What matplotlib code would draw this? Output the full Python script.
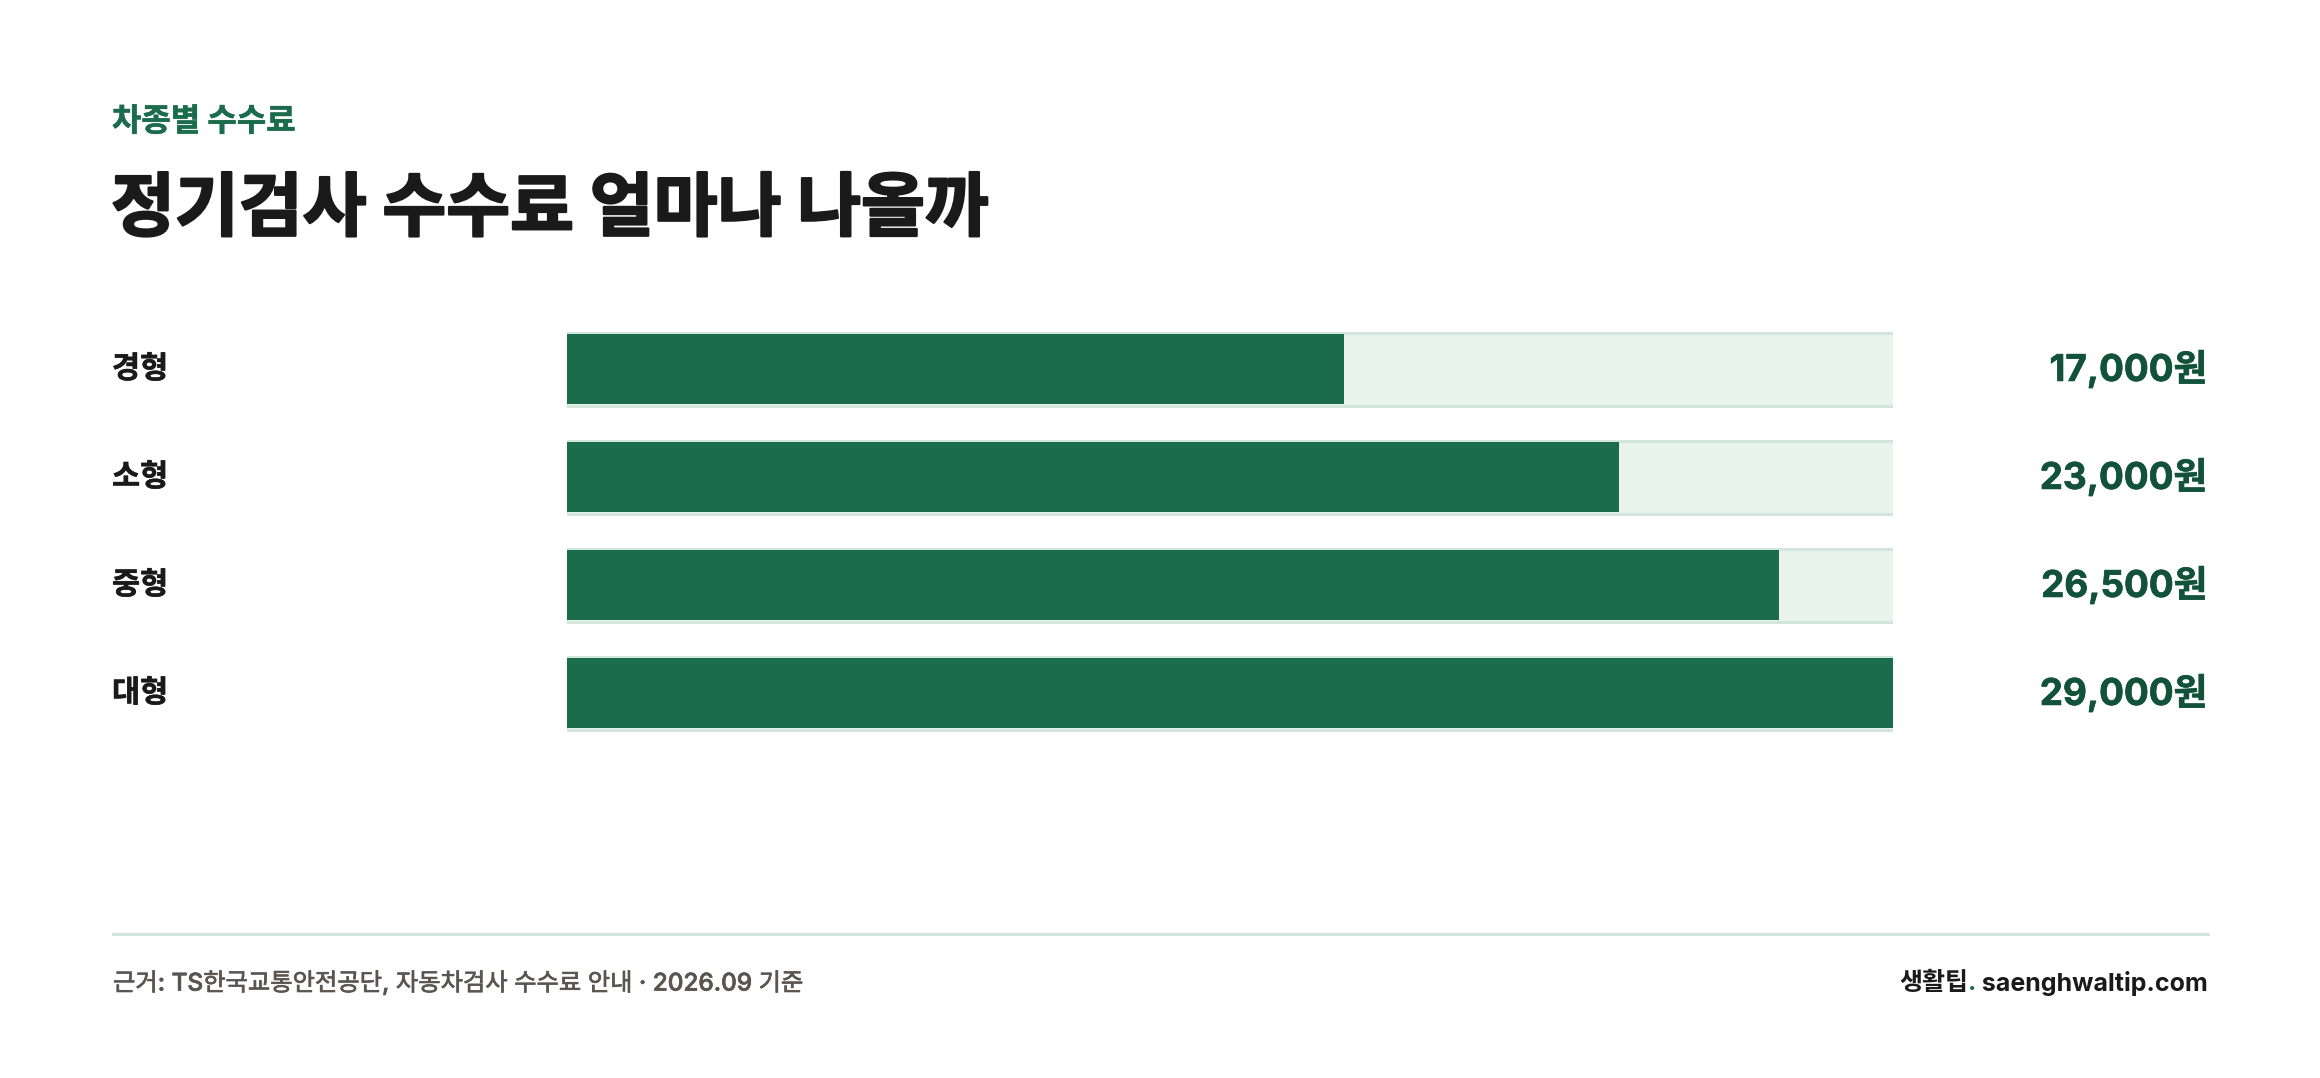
import matplotlib
matplotlib.use("Agg")
import matplotlib.pyplot as plt
import matplotlib.patheffects as pe
from matplotlib.transforms import blended_transform_factory
from matplotlib.lines import Line2D

# 데이터
categories = ["경형", "소형", "중형", "대형"]
fees = [17000, 23000, 26500, 29000]
fee_labels = ["17,000원", "23,000원", "26,500원", "29,000원"]
max_fee = 29000

kicker = "차종별 수수료"
title = "정기검사 수수료 얼마나 나올까"
source = "근거: TS한국교통안전공단, 자동차검사 수수료 안내 · 2026.09 기준"
brand_ko = "생활팁"
brand_url = " saenghwaltip.com"

# 색상
GREEN = "#1b6b4d"
DARK_GREEN = "#12523a"
TRACK = "#e8f3ec"
BORDER = "#d3e6dc"
INK = "#1a1a1a"
GRAY = "#5a5550"

KR = ["Noto Sans CJK KR", "DejaVu Sans"]
LAT = ["Inter", "Noto Sans CJK KR", "DejaVu Sans"]

W, H = 2320, 1078
fig = plt.figure(figsize=(W / 100, H / 100), dpi=100)
fig.patch.set_facecolor("white")


def fx(px):
    return px / W


def fy(py):
    return 1 - py / H


def heavy(color, lw):
    # 굵은 글꼴 느낌을 위해 외곽선을 덧댐
    return [pe.withStroke(linewidth=lw, foreground=color)]


# 막대 영역 (픽셀 기준으로 배치)
left_px, right_px = 567, 1893
top_px, row_h = 315, 108
n = len(categories)
ax = fig.add_axes([fx(left_px), fy(top_px + row_h * n), fx(right_px - left_px), row_h * n / H])
ax.set_xlim(0, max_fee)
ax.set_ylim(n - 0.5, -0.5)
ax.axis("off")

pad = 1.5 * max_fee / (right_px - left_px)
ys = list(range(n))
ax.barh(ys, [max_fee + 2 * pad] * n, left=-pad, height=73 / row_h,
        color=TRACK, edgecolor=BORDER, linewidth=2.16, zorder=1)
ax.barh(ys, fees, height=70 / row_h, color=GREEN, linewidth=0, zorder=2)

tr = blended_transform_factory(fig.transFigure, ax.transData)
for y, cat, lab in zip(ys, categories, fee_labels):
    ax.text(fx(112), y, cat, transform=tr, ha="left", va="center",
            fontsize=22, fontweight="bold", color=INK, family=KR,
            path_effects=heavy(INK, 0.4))
    ax.text(fx(2208), y, lab, transform=tr, ha="right", va="center",
            fontsize=26.5, fontweight="bold", color=DARK_GREEN, family=LAT,
            path_effects=heavy(DARK_GREEN, 0.5))

# 제목
fig.text(fx(112), fy(122), kicker, ha="left", va="center",
         fontsize=23, fontweight="bold", color=GREEN, family=KR,
         path_effects=heavy(GREEN, 0.4))
fig.text(fx(111), fy(210), title, ha="left", va="center",
         fontsize=50, fontweight="black", color=INK, family=KR,
         path_effects=heavy(INK, 1.6))

# 하단
fig.add_artist(Line2D([fx(113), fx(2208)], [fy(933.5), fy(933.5)],
                      transform=fig.transFigure, color=BORDER, linewidth=2.16))
fig.text(fx(113), fy(983), source, ha="left", va="center",
         fontsize=17.5, fontweight="medium", color=GRAY, family=LAT,
         path_effects=heavy(GRAY, 0.5))

renderer = fig.canvas.get_renderer()
t1 = fig.text(fx(2208), fy(983), brand_url, ha="right", va="center",
              fontsize=18, fontweight="bold", color=INK, family=LAT)
x0 = t1.get_window_extent(renderer).x0
t2 = fig.text(x0 / W, fy(983), ".", ha="right", va="center",
              fontsize=18, fontweight="bold", color=GREEN, family=LAT)
x0 = t2.get_window_extent(renderer).x0
fig.text(x0 / W, fy(983), brand_ko, ha="right", va="center",
         fontsize=18, fontweight="bold", color=INK, family=KR)

fig.savefig("out.png", dpi=100, facecolor="white")
